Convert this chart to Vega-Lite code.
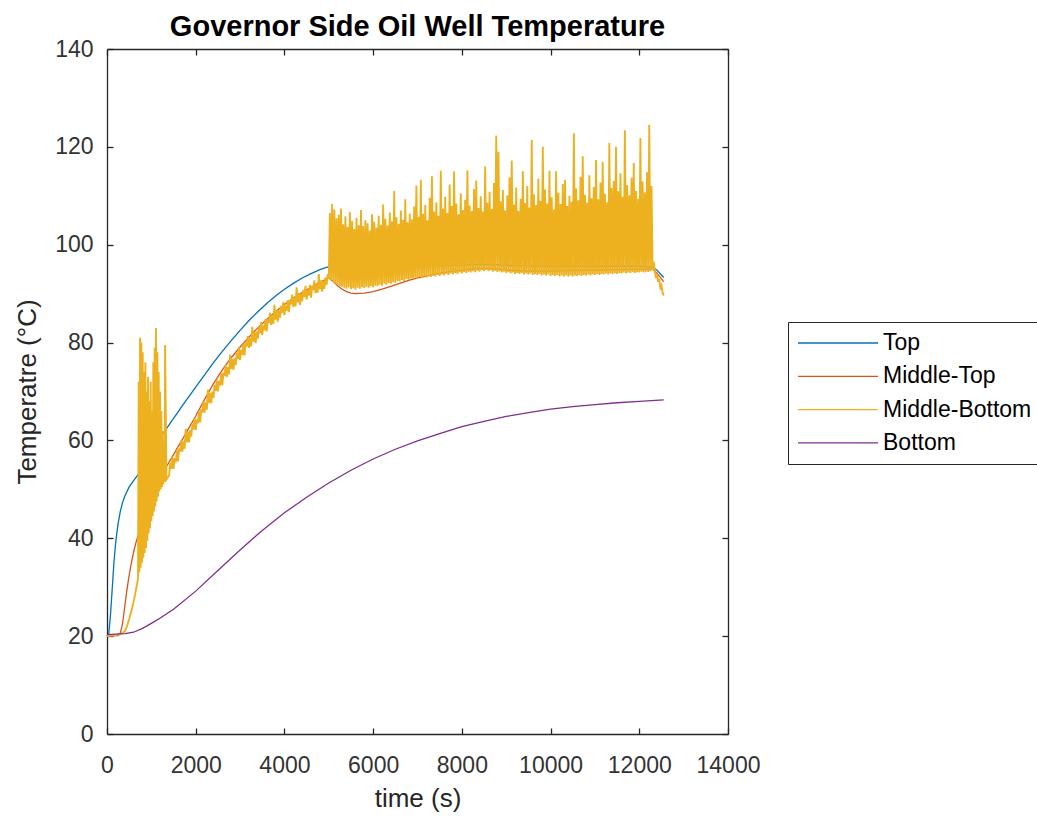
{
  "$schema": "https://vega.github.io/schema/vega-lite/v6.json",
  "width": 621,
  "height": 685,
  "autosize": {"type": "none"},
  "padding": {"left": 107, "top": 49, "right": 309, "bottom": 84},
  "background": "white",
  "title": {
    "text": "Governor Side Oil Well Temperature",
    "font": "Liberation Sans",
    "fontSize": 29,
    "fontWeight": "bold",
    "color": "#000000",
    "anchor": "middle",
    "frame": "group",
    "baseline": "alphabetic",
    "offset": 13,
    "dy": 40
  },
  "config": {
    "view": {"stroke": null},
    "axis": {
      "grid": false,
      "domainColor": "#262626",
      "domainWidth": 1.3,
      "tickColor": "#262626",
      "tickWidth": 1.3,
      "tickSize": -6,
      "labelFlush": false,
      "labelFont": "Liberation Sans",
      "labelFontSize": 23,
      "labelColor": "#333333",
      "titleFont": "Liberation Sans",
      "titleFontSize": 26,
      "titleFontWeight": "normal",
      "titleColor": "#262626"
    }
  },
  "datasets": {
    "top": [
      {"t":0,"v":20},{"t":40,"v":20.5},{"t":80,"v":24.5},{"t":120,"v":30},{"t":160,"v":35.5},{"t":200,"v":39.5},{"t":250,"v":43},{"t":300,"v":45.5},{"t":350,"v":47.3},{"t":400,"v":48.6},{"t":500,"v":50.5},{"t":600,"v":51.8},{"t":700,"v":53},{"t":800,"v":54.6},{"t":900,"v":56.2},{"t":1000,"v":57.8},{"t":1100,"v":59.3},{"t":1200,"v":60.6},{"t":1300,"v":61.9},{"t":1400,"v":63.2},{"t":1500,"v":64.5},{"t":1600,"v":65.8},{"t":1700,"v":67.1},{"t":1800,"v":68.4},{"t":2000,"v":70.9},{"t":2200,"v":73.4},{"t":2400,"v":75.9},{"t":2600,"v":78.2},{"t":2800,"v":80.4},{"t":3000,"v":82.5},{"t":3200,"v":84.5},{"t":3400,"v":86.3},{"t":3600,"v":88},{"t":3800,"v":89.5},{"t":4000,"v":90.9},{"t":4200,"v":92.1},{"t":4400,"v":93.2},{"t":4600,"v":94.1},{"t":4800,"v":94.9},{"t":5000,"v":95.5},{"t":5200,"v":95.9},{"t":5400,"v":96},{"t":5600,"v":95.8},{"t":6000,"v":95.6},{"t":7000,"v":95.6},{"t":8000,"v":95.9},{"t":8500,"v":96},{"t":9000,"v":95.8},{"t":10000,"v":95.6},{"t":11000,"v":95.6},{"t":12000,"v":95.6},{"t":12300,"v":95.4},{"t":12400,"v":94.8},{"t":12500,"v":93.8},{"t":12550,"v":93.3}
    ],
    "middleTop": [
      {"t":0,"v":20},{"t":250,"v":20.1},{"t":300,"v":20.6},{"t":350,"v":22.5},{"t":400,"v":26},{"t":450,"v":29.5},{"t":500,"v":32.5},{"t":550,"v":35},{"t":600,"v":37.2},{"t":650,"v":39},{"t":700,"v":40.6},{"t":800,"v":43.5},{"t":900,"v":46},{"t":1000,"v":48.3},{"t":1100,"v":50.3},{"t":1200,"v":52.2},{"t":1300,"v":54},{"t":1400,"v":55.6},{"t":1500,"v":57.1},{"t":1600,"v":58.7},{"t":1700,"v":60.2},{"t":1800,"v":61.8},{"t":2000,"v":65},{"t":2200,"v":68.4},{"t":2400,"v":71.6},{"t":2600,"v":74.4},{"t":2800,"v":76.9},{"t":3000,"v":79.1},{"t":3200,"v":81.1},{"t":3400,"v":83},{"t":3600,"v":84.7},{"t":3800,"v":86.3},{"t":4000,"v":87.8},{"t":4200,"v":89.1},{"t":4400,"v":90.2},{"t":4600,"v":91.3},{"t":4800,"v":92.3},{"t":5000,"v":93.2},{"t":5100,"v":92.5},{"t":5200,"v":91.6},{"t":5300,"v":90.9},{"t":5400,"v":90.4},{"t":5500,"v":90.1},{"t":5600,"v":90},{"t":5800,"v":90.1},{"t":6000,"v":90.4},{"t":6200,"v":90.9},{"t":6400,"v":91.5},{"t":6600,"v":92.1},{"t":6800,"v":92.7},{"t":7000,"v":93.2},{"t":7200,"v":93.6},{"t":7400,"v":94},{"t":7600,"v":94.3},{"t":7800,"v":94.6},{"t":8000,"v":94.8},{"t":8200,"v":95},{"t":8400,"v":95.1},{"t":8600,"v":95.1},{"t":8800,"v":95},{"t":9000,"v":94.8},{"t":9500,"v":94.6},{"t":10000,"v":94.6},{"t":10500,"v":94.7},{"t":11000,"v":94.8},{"t":11500,"v":94.9},{"t":12000,"v":95},{"t":12300,"v":95},{"t":12400,"v":94.2},{"t":12500,"v":93},{"t":12550,"v":92.4}
    ],
    "middleBottom": [
      {"t":0,"v":20},{"t":100,"v":20.1},{"t":200,"v":20.2},{"t":300,"v":20.4},{"t":400,"v":21},{"t":450,"v":22},{"t":500,"v":23.5},{"t":550,"v":25.2},{"t":600,"v":27},{"t":650,"v":29.3},{"t":700,"v":31.8},
      {"t":715,"v":72},{"t":730,"v":33},{"t":745,"v":81},{"t":760,"v":34},{"t":775,"v":80},{"t":790,"v":35},{"t":805,"v":78},{"t":820,"v":36},{"t":835,"v":74},{"t":850,"v":37},{"t":865,"v":76},{"t":880,"v":38},{"t":895,"v":70},{"t":910,"v":39.5},{"t":925,"v":73},{"t":940,"v":41},{"t":955,"v":68},{"t":970,"v":42},{"t":985,"v":72},{"t":1000,"v":43.5},{"t":1015,"v":66},{"t":1030,"v":44.5},{"t":1045,"v":76},{"t":1060,"v":45.5},{"t":1075,"v":79},{"t":1090,"v":46.5},{"t":1105,"v":83},{"t":1120,"v":47.5},{"t":1135,"v":78},{"t":1150,"v":48.5},{"t":1165,"v":74},{"t":1180,"v":49.5},{"t":1195,"v":70},{"t":1210,"v":50},{"t":1225,"v":66},{"t":1240,"v":50.5},{"t":1255,"v":62},{"t":1270,"v":51},{"t":1285,"v":58},{"t":1300,"v":51.5},{"t":1310,"v":79.5},{"t":1340,"v":52},
      {"t":1400,"v":52.8},{"t":1425,"v":55.4},{"t":1450,"v":54.2},{"t":1475,"v":56.7},{"t":1500,"v":54.2},{"t":1525,"v":56.4},{"t":1550,"v":55.5},{"t":1575,"v":58},{"t":1600,"v":55.7},{"t":1625,"v":58.4},{"t":1650,"v":57.7},{"t":1675,"v":60},{"t":1700,"v":57.7},{"t":1725,"v":59.8},{"t":1750,"v":58.3},{"t":1775,"v":62.4},{"t":1800,"v":59.6},{"t":1825,"v":61.7},{"t":1850,"v":59.6},{"t":1875,"v":62.1},{"t":1900,"v":60.8},{"t":1925,"v":63.4},{"t":1950,"v":62.2},{"t":1975,"v":64.6},{"t":2000,"v":62.1},{"t":2025,"v":64.3},{"t":2050,"v":63.5},{"t":2075,"v":66},{"t":2100,"v":63.7},{"t":2125,"v":66.4},{"t":2150,"v":65.7},{"t":2175,"v":68},{"t":2200,"v":65.7},{"t":2225,"v":67.8},{"t":2250,"v":66.3},{"t":2275,"v":70.4},{"t":2300,"v":67.6},{"t":2325,"v":69.7},{"t":2350,"v":67.6},{"t":2375,"v":70},{"t":2400,"v":68.7},{"t":2425,"v":71.3},{"t":2450,"v":70.1},{"t":2475,"v":72.5},{"t":2500,"v":70},{"t":2525,"v":72.2},{"t":2550,"v":71.2},{"t":2575,"v":73.7},{"t":2600,"v":71.3},{"t":2625,"v":73.9},{"t":2650,"v":73.2},{"t":2675,"v":75.4},{"t":2700,"v":73},{"t":2725,"v":75},{"t":2750,"v":73.5},{"t":2775,"v":77.5},{"t":2800,"v":74.6},{"t":2825,"v":76.6},{"t":2850,"v":74.4},{"t":2875,"v":76.8},{"t":2900,"v":75.4},{"t":2925,"v":77.9},{"t":2950,"v":76.6},{"t":2975,"v":79},{"t":3000,"v":76.4},{"t":3025,"v":78.5},{"t":3050,"v":77.5},{"t":3075,"v":79.8},{"t":3100,"v":77.4},{"t":3125,"v":80},{"t":3150,"v":79.2},{"t":3175,"v":81.3},{"t":3200,"v":78.9},{"t":3225,"v":80.9},{"t":3250,"v":79.2},{"t":3275,"v":83.2},{"t":3300,"v":80.2},{"t":3325,"v":82.2},{"t":3350,"v":79.9},{"t":3375,"v":82.3},{"t":3400,"v":80.8},{"t":3425,"v":83.2},{"t":3450,"v":81.9},{"t":3475,"v":84.2},{"t":3500,"v":81.5},{"t":3525,"v":83.5},{"t":3550,"v":82.5},{"t":3575,"v":84.8},{"t":3600,"v":82.3},{"t":3625,"v":84.8},{"t":3650,"v":84},{"t":3675,"v":86.1},{"t":3700,"v":83.6},{"t":3725,"v":85.5},{"t":3750,"v":83.8},{"t":3775,"v":87.7},{"t":3800,"v":84.7},{"t":3825,"v":86.6},{"t":3850,"v":84.3},{"t":3875,"v":86.6},{"t":3900,"v":85.1},{"t":3925,"v":87.5},{"t":3950,"v":86.1},{"t":3975,"v":88.3},{"t":4000,"v":85.6},{"t":4025,"v":87.6},{"t":4050,"v":86.5},{"t":4075,"v":88.7},{"t":4100,"v":86.2},{"t":4125,"v":88.7},{"t":4150,"v":87.8},{"t":4175,"v":89.8},{"t":4200,"v":87.3},{"t":4225,"v":89.2},{"t":4250,"v":87.4},{"t":4275,"v":91.3},{"t":4300,"v":88.2},{"t":4325,"v":90.1},{"t":4350,"v":87.7},{"t":4375,"v":90},{"t":4400,"v":88.4},{"t":4425,"v":90.8},{"t":4450,"v":89.3},{"t":4475,"v":91.6},{"t":4500,"v":88.8},{"t":4525,"v":90.7},{"t":4550,"v":89.6},{"t":4575,"v":91.8},{"t":4600,"v":89.2},{"t":4625,"v":91.6},{"t":4650,"v":90.7},{"t":4675,"v":92.7},{"t":4700,"v":90.1},{"t":4725,"v":91.9},{"t":4750,"v":90.2},{"t":4775,"v":94},{"t":4800,"v":90.9},{"t":4825,"v":92.7},{"t":4850,"v":90.4},{"t":4875,"v":92.6},{"t":4900,"v":91},{"t":4925,"v":93.3},{"t":4950,"v":91.8},{"t":4975,"v":94},
      {"t":5000,"v":93},{"t":5025,"v":106.5},{"t":5050,"v":92.8},{"t":5075,"v":108.3},{"t":5100,"v":92.4},{"t":5125,"v":107.2},{"t":5150,"v":92},{"t":5175,"v":105.4},{"t":5200,"v":91.8},{"t":5225,"v":106.1},{"t":5250,"v":91.5},{"t":5275,"v":107.4},{"t":5300,"v":91.4},{"t":5325,"v":104.2},{"t":5350,"v":91.2},{"t":5375,"v":105.8},{"t":5400,"v":91},{"t":5425,"v":103.6},{"t":5450,"v":91.3},{"t":5475,"v":106.7},{"t":5500,"v":90.9},{"t":5525,"v":104.9},{"t":5550,"v":91.1},{"t":5575,"v":103.2},{"t":5600,"v":90.8},{"t":5625,"v":105.5},{"t":5650,"v":91.2},{"t":5675,"v":104},{"t":5700,"v":91},{"t":5725,"v":107.1},{"t":5750,"v":91.3},{"t":5775,"v":103.8},{"t":5800,"v":91.1},{"t":5825,"v":105},{"t":5850,"v":91.4},{"t":5875,"v":104.4},{"t":5900,"v":91.2},{"t":5925,"v":102.9},{"t":5950,"v":91.5},{"t":5975,"v":106.2},{"t":6000,"v":91.3},{"t":6025,"v":104.7},{"t":6050,"v":91.6},{"t":6075,"v":103.5},{"t":6100,"v":91.5},{"t":6125,"v":105.9},{"t":6150,"v":91.8},{"t":6175,"v":104.1},{"t":6200,"v":91.6},{"t":6225,"v":108.2},{"t":6250,"v":92},{"t":6275,"v":105.3},{"t":6300,"v":91.8},{"t":6325,"v":103.9},{"t":6350,"v":92.2},{"t":6375,"v":106.6},{"t":6400,"v":92},{"t":6425,"v":104.8},{"t":6450,"v":92.4},{"t":6475,"v":111},{"t":6500,"v":92.2},{"t":6525,"v":105.6},{"t":6550,"v":92.6},{"t":6575,"v":104.3},{"t":6600,"v":92.5},{"t":6625,"v":107},{"t":6650,"v":92.8},{"t":6675,"v":105.1},{"t":6700,"v":92.6},{"t":6725,"v":109.3},{"t":6750,"v":93},{"t":6775,"v":104.6},{"t":6800,"v":92.8},{"t":6825,"v":106.4},{"t":6850,"v":93.1},{"t":6875,"v":105.2},{"t":6900,"v":93},{"t":6925,"v":107.8},{"t":6950,"v":93.3},{"t":6975,"v":112.1},{"t":7000,"v":93.1},{"t":7025,"v":105.7},{"t":7050,"v":93.4},{"t":7075,"v":113.2},{"t":7100,"v":93.2},{"t":7125,"v":106.3},{"t":7150,"v":93.5},{"t":7175,"v":108.1},{"t":7200,"v":93.3},{"t":7225,"v":105},{"t":7250,"v":93.6},{"t":7275,"v":109.6},{"t":7300,"v":93.4},{"t":7325,"v":114},{"t":7350,"v":93.7},{"t":7375,"v":106.8},{"t":7400,"v":93.5},{"t":7425,"v":108.7},{"t":7450,"v":93.8},{"t":7475,"v":105.9},{"t":7500,"v":93.6},{"t":7525,"v":115.1},{"t":7550,"v":93.9},{"t":7575,"v":107.4},{"t":7600,"v":93.7},{"t":7625,"v":109.8},{"t":7650,"v":94},{"t":7675,"v":106.5},{"t":7700,"v":93.8},{"t":7725,"v":112.3},{"t":7750,"v":94.1},{"t":7775,"v":107.9},{"t":7800,"v":93.9},{"t":7825,"v":115},{"t":7850,"v":94.2},{"t":7875,"v":108.4},{"t":7900,"v":94},{"t":7925,"v":106.2},{"t":7950,"v":94.3},{"t":7975,"v":110.5},{"t":8000,"v":94.1},{"t":8025,"v":107.1},{"t":8050,"v":94.4},{"t":8075,"v":109.2},{"t":8100,"v":94.2},{"t":8125,"v":115.2},{"t":8150,"v":94.5},{"t":8175,"v":108},{"t":8200,"v":94.3},{"t":8225,"v":106.9},{"t":8250,"v":94.6},{"t":8275,"v":111.4},{"t":8300,"v":94.4},{"t":8325,"v":113.1},{"t":8350,"v":94.7},{"t":8375,"v":107.5},{"t":8400,"v":94.5},{"t":8425,"v":109.9},{"t":8450,"v":94.8},{"t":8475,"v":106.8},{"t":8500,"v":94.6},{"t":8525,"v":116},{"t":8550,"v":94.9},{"t":8575,"v":108.6},{"t":8600,"v":94.6},{"t":8625,"v":110.8},{"t":8650,"v":94.8},{"t":8675,"v":107.3},{"t":8700,"v":94.5},{"t":8725,"v":112.6},{"t":8750,"v":94.7},{"t":8775,"v":122.3},{"t":8800,"v":94.4},{"t":8825,"v":119},{"t":8850,"v":94.6},{"t":8875,"v":108.9},{"t":8900,"v":94.3},{"t":8925,"v":111.2},{"t":8950,"v":94.5},{"t":8975,"v":107},{"t":9000,"v":94.2},{"t":9025,"v":110.1},{"t":9050,"v":94.4},{"t":9075,"v":113.8},{"t":9100,"v":94.1},{"t":9125,"v":117.2},{"t":9150,"v":94.3},{"t":9175,"v":108.2},{"t":9200,"v":94},{"t":9225,"v":111.7},{"t":9250,"v":94.2},{"t":9275,"v":106.9},{"t":9300,"v":94},{"t":9325,"v":109.4},{"t":9350,"v":94.2},{"t":9375,"v":115},{"t":9400,"v":93.9},{"t":9425,"v":108.5},{"t":9450,"v":94.1},{"t":9475,"v":112},{"t":9500,"v":93.9},{"t":9525,"v":107.6},{"t":9550,"v":94.1},{"t":9575,"v":121.4},{"t":9600,"v":93.8},{"t":9625,"v":110.3},{"t":9650,"v":94},{"t":9675,"v":108.1},{"t":9700,"v":93.8},{"t":9725,"v":113.5},{"t":9750,"v":94},{"t":9775,"v":109},{"t":9800,"v":93.7},{"t":9825,"v":120},{"t":9850,"v":93.9},{"t":9875,"v":111.3},{"t":9900,"v":93.7},{"t":9925,"v":108.4},{"t":9950,"v":93.9},{"t":9975,"v":115.1},{"t":10000,"v":93.6},{"t":10025,"v":109.7},{"t":10050,"v":93.8},{"t":10075,"v":107.2},{"t":10100,"v":93.6},{"t":10125,"v":115},{"t":10150,"v":93.8},{"t":10175,"v":110.6},{"t":10200,"v":93.5},{"t":10225,"v":108.3},{"t":10250,"v":93.7},{"t":10275,"v":112.4},{"t":10300,"v":93.5},{"t":10325,"v":113.2},{"t":10350,"v":93.7},{"t":10375,"v":107.9},{"t":10400,"v":93.5},{"t":10425,"v":110},{"t":10450,"v":93.7},{"t":10475,"v":108.8},{"t":10500,"v":93.5},{"t":10525,"v":122.8},{"t":10550,"v":93.7},{"t":10575,"v":111.5},{"t":10600,"v":93.6},{"t":10625,"v":109.1},{"t":10650,"v":93.8},{"t":10675,"v":113.9},{"t":10700,"v":93.6},{"t":10725,"v":118.1},{"t":10750,"v":93.8},{"t":10775,"v":110.2},{"t":10800,"v":93.7},{"t":10825,"v":108.6},{"t":10850,"v":93.9},{"t":10875,"v":114.2},{"t":10900,"v":93.7},{"t":10925,"v":109.5},{"t":10950,"v":93.9},{"t":10975,"v":111.8},{"t":11000,"v":93.8},{"t":11025,"v":117.3},{"t":11050,"v":94},{"t":11075,"v":109.3},{"t":11100,"v":93.8},{"t":11125,"v":112.7},{"t":11150,"v":94},{"t":11175,"v":116.9},{"t":11200,"v":93.9},{"t":11225,"v":110.4},{"t":11250,"v":94.1},{"t":11275,"v":108.7},{"t":11300,"v":93.9},{"t":11325,"v":120.8},{"t":11350,"v":94.1},{"t":11375,"v":111.6},{"t":11400,"v":94},{"t":11425,"v":113},{"t":11450,"v":94.2},{"t":11475,"v":120},{"t":11500,"v":94},{"t":11525,"v":110.9},{"t":11550,"v":94.2},{"t":11575,"v":114.6},{"t":11600,"v":94.1},{"t":11625,"v":109.8},{"t":11650,"v":94.3},{"t":11675,"v":123.4},{"t":11700,"v":94.1},{"t":11725,"v":112.2},{"t":11750,"v":94.3},{"t":11775,"v":110.1},{"t":11800,"v":94.2},{"t":11825,"v":113.7},{"t":11850,"v":94.4},{"t":11875,"v":116.7},{"t":11900,"v":94.2},{"t":11925,"v":111},{"t":11950,"v":94.4},{"t":11975,"v":109.4},{"t":12000,"v":94.3},{"t":12025,"v":121.8},{"t":12050,"v":94.5},{"t":12075,"v":112.9},{"t":12100,"v":94.3},{"t":12125,"v":110.7},{"t":12150,"v":94.5},{"t":12175,"v":114.8},{"t":12200,"v":94.4},{"t":12225,"v":124.5},{"t":12250,"v":94.6},{"t":12275,"v":112},{"t":12300,"v":94.8},
      {"t":12325,"v":96.5},{"t":12350,"v":94.6},{"t":12375,"v":93.2},{"t":12400,"v":94},{"t":12425,"v":92.4},{"t":12450,"v":93},{"t":12475,"v":91.2},{"t":12500,"v":91.7},{"t":12525,"v":90.2},{"t":12550,"v":89.6}
    ],
    "bottom": [
      {"t":0,"v":20.3},{"t":200,"v":20.4},{"t":400,"v":20.5},{"t":600,"v":20.8},{"t":800,"v":21.6},{"t":1000,"v":22.6},{"t":1200,"v":23.7},{"t":1500,"v":25.5},{"t":2000,"v":29.2},{"t":2500,"v":33.4},{"t":3000,"v":37.6},{"t":3500,"v":41.6},{"t":4000,"v":45.2},{"t":4500,"v":48.4},{"t":5000,"v":51.3},{"t":5500,"v":53.9},{"t":6000,"v":56.2},{"t":6500,"v":58.2},{"t":7000,"v":59.9},{"t":7500,"v":61.4},{"t":8000,"v":62.8},{"t":8500,"v":63.9},{"t":9000,"v":64.9},{"t":9500,"v":65.7},{"t":10000,"v":66.4},{"t":10500,"v":66.9},{"t":11000,"v":67.3},{"t":11500,"v":67.7},{"t":12000,"v":68},{"t":12550,"v":68.3}
    ]
  },
  "resolve": {"axis": {"x": "independent", "y": "independent"}},
  "layer": [
    {
      "data": {"name": "top"},
      "mark": {"type": "line", "strokeWidth": 1.3},
      "encoding": {
        "x": {
          "field": "t", "type": "quantitative",
          "scale": {"domain": [0, 14000], "nice": false, "zero": false},
          "axis": {"orient": "bottom", "values": [0,2000,4000,6000,8000,10000,12000,14000], "format": "d", "labelPadding": 26, "title": "time (s)", "titlePadding": 8}
        },
        "y": {
          "field": "v", "type": "quantitative",
          "scale": {"domain": [0, 140], "nice": false},
          "axis": {"orient": "left", "values": [0,20,40,60,80,100,120,140], "labelPadding": 20, "title": "Temperatre (°C)", "titlePadding": 14}
        },
        "color": {
          "datum": "Top", "type": "nominal",
          "scale": {"domain": ["Top", "Middle-Top", "Middle-Bottom", "Bottom"], "range": ["#0072BD", "#D95319", "#EDB120", "#7E2F8E"]},
          "legend": {
            "orient": "none", "legendX": 681, "legendY": 273,
            "title": null,
            "symbolType": "stroke", "symbolSize": 6400, "symbolStrokeWidth": 1.3,
            "clipHeight": 24, "rowPadding": 9.3, "padding": 9,
            "labelFont": "Liberation Sans", "labelFontSize": 23, "labelColor": "#000000", "labelOffset": 4, "labelLimit": 400,
            "strokeColor": "#262626", "fillColor": "#ffffff"
          }
        }
      }
    },
    {
      "data": {"name": "middleTop"},
      "mark": {"type": "line", "strokeWidth": 1.3},
      "encoding": {
        "x": {"field": "t", "type": "quantitative", "scale": {"domain": [0, 14000], "nice": false, "zero": false},
          "axis": {"orient": "top", "values": [0,2000,4000,6000,8000,10000,12000,14000], "labels": false, "title": null}},
        "y": {"field": "v", "type": "quantitative", "scale": {"domain": [0, 140], "nice": false},
          "axis": {"orient": "right", "values": [0,20,40,60,80,100,120,140], "labels": false, "title": null}},
        "color": {"datum": "Middle-Top", "type": "nominal"}
      }
    },
    {
      "data": {"name": "middleBottom"},
      "mark": {"type": "line", "strokeWidth": 1.9},
      "encoding": {
        "x": {"field": "t", "type": "quantitative", "scale": {"domain": [0, 14000], "nice": false, "zero": false}, "axis": null},
        "y": {"field": "v", "type": "quantitative", "scale": {"domain": [0, 140], "nice": false}, "axis": null},
        "color": {"datum": "Middle-Bottom", "type": "nominal"}
      }
    },
    {
      "data": {"name": "bottom"},
      "mark": {"type": "line", "strokeWidth": 1.3},
      "encoding": {
        "x": {"field": "t", "type": "quantitative", "scale": {"domain": [0, 14000], "nice": false, "zero": false}, "axis": null},
        "y": {"field": "v", "type": "quantitative", "scale": {"domain": [0, 140], "nice": false}, "axis": null},
        "color": {"datum": "Bottom", "type": "nominal"}
      }
    }
  ]
}
